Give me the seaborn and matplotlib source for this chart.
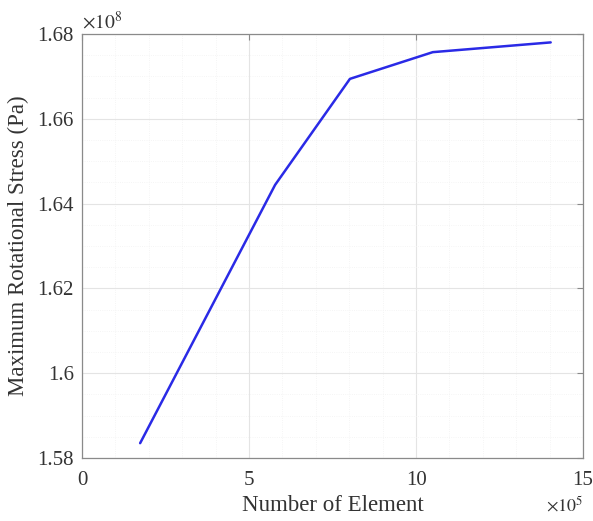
import matplotlib
matplotlib.use("Agg")
import matplotlib.pyplot as plt
import seaborn as sns
import pandas as pd
from matplotlib.ticker import MultipleLocator

elements = [1.74e5, 5.78e5, 8.02e5, 10.5e5, 14.03e5]
stress = [1.5835e8, 1.6444e8, 1.6694e8, 1.6757e8, 1.6780e8]

df = pd.DataFrame({"Number of Element": elements, "Maximum Rotational Stress (Pa)": stress})

sns.set_style("white")
plt.rcParams["font.family"] = ["Liberation Serif", "DejaVu Serif"]
plt.rcParams["mathtext.fontset"] = "stix"

fig = plt.figure(figsize=(5.93, 5.21), dpi=100)
ax = fig.add_axes([0.1383, 0.1209, 0.845, 0.814])

sns.lineplot(data=df, x=df["Number of Element"] / 1e5, y=df["Maximum Rotational Stress (Pa)"] / 1e8,
             ax=ax, color="#2a2ae6", linewidth=1.8)

ax.set_xlim(0, 15)
ax.set_ylim(1.58, 1.68)
ax.set_xticks([0, 5, 10, 15])
ax.set_xticklabels(["0", "5", "10", "15"])
ax.set_yticks([1.58, 1.6, 1.62, 1.64, 1.66, 1.68])
ax.set_yticklabels(["1.58", "1.6", "1.62", "1.64", "1.66", "1.68"])
ax.xaxis.set_minor_locator(MultipleLocator(1))
ax.yaxis.set_minor_locator(MultipleLocator(0.005))
ax.grid(True, which="major", color="#e4e4e4", linewidth=0.8)
ax.grid(True, which="minor", color="#f2f2f2", linewidth=0.6, linestyle=":")
ax.set_axisbelow(True)

for s in ax.spines.values():
    s.set_color("#8a8a8a")
    s.set_linewidth(0.9)
ax.tick_params(axis="both", which="major", direction="in", length=4, color="#8a8a8a",
               labelsize=15, labelcolor="#333333", top=True, right=True)
ax.tick_params(axis="x", which="major", pad=9)
ax.tick_params(axis="y", which="major", pad=6)
ax.tick_params(axis="both", which="minor", length=0)

ax.set_xlabel("Number of Element", fontsize=16.5, color="#333333", labelpad=4)
ax.set_ylabel("Maximum Rotational Stress (Pa)", fontsize=16.5, color="#333333", labelpad=6)

ax.text(0.0, 1.003, r"$\times10^{8}$", transform=ax.transAxes, fontsize=14, color="#333333",
        ha="left", va="bottom")
ax.text(1.0, -0.088, r"$\times10^{5}$", transform=ax.transAxes, fontsize=13, color="#333333",
        ha="right", va="top")

fig.savefig("out.png", dpi=100)
